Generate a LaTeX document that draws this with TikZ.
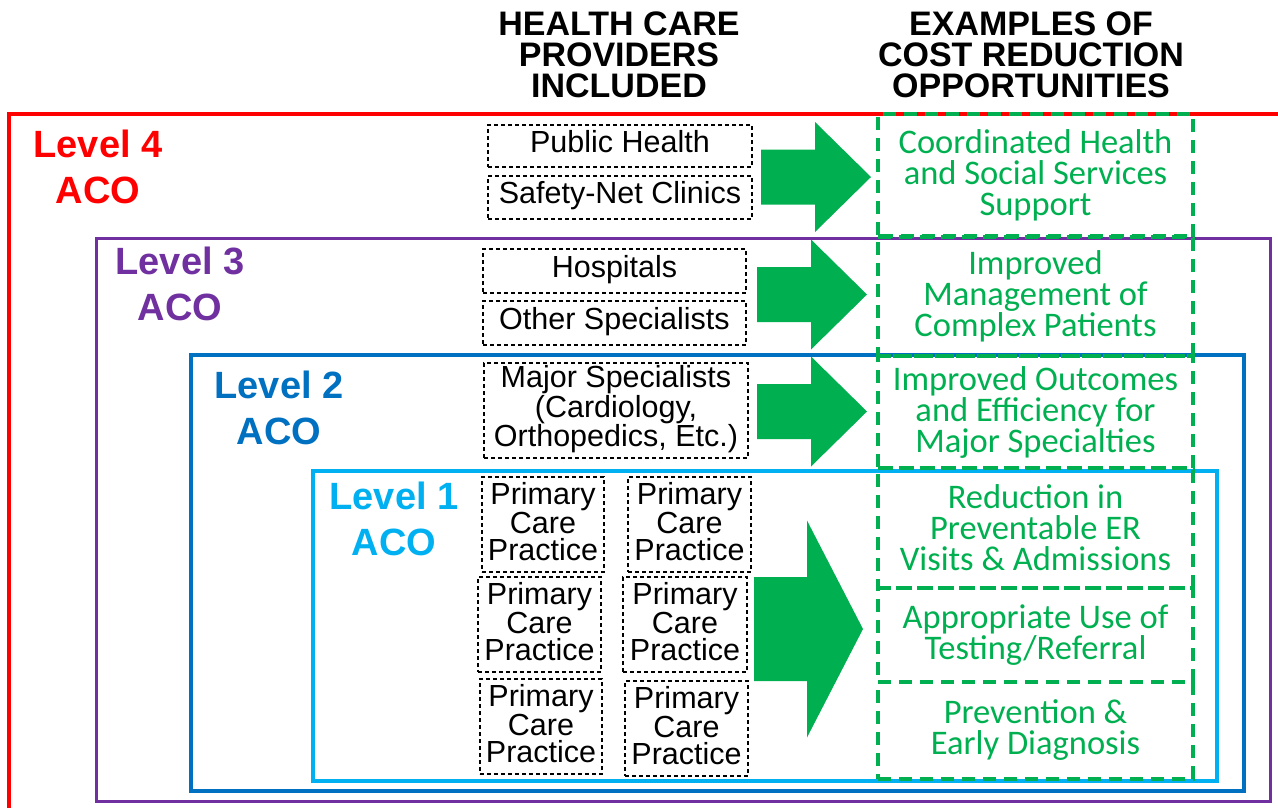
\documentclass[tikz,border=0pt]{standalone}
\usepackage{fontspec}
\setmainfont{Liberation Sans}
\newfontfamily\calibrifont{Carlito}
\definecolor{acored}{HTML}{FF0000}
\definecolor{acopurple}{HTML}{7030A0}
\definecolor{acoblue}{HTML}{0070C0}
\definecolor{acolightblue}{HTML}{00B0F0}
\definecolor{acogreen}{HTML}{00B050}
\tikzset{
  provider/.style={draw, dash pattern=on 4pt off 3pt, line width=1.2pt, inner sep=0pt, align=center, font=\fontsize{30.5}{27}\selectfont},
  oneline/.style={text height=22pt, text depth=10pt},
  saving/.style={draw=acogreen, text=acogreen, dash pattern=on 13pt off 8pt, line width=4pt, minimum width=315pt, inner sep=0pt, align=center, font=\calibrifont\fontsize{34.5}{31}\selectfont},
  levellabel/.style={anchor=north, inner sep=0pt, align=center, font=\bfseries\fontsize{38}{46}\selectfont},
  heading/.style={anchor=north, inner sep=0pt, align=center, font=\bfseries\fontsize{34}{31}\selectfont},
  levelframe/.style={line width=3.5pt},
}
% extra depth under the last line of a box
\newcommand{\pushup}[1]{\rule[-#1]{0pt}{#1}}
% left, head base, tip, centre y, half body, half head
\newcommand{\blockarrow}[6]{%
  \fill[acogreen] (#1,{#4-#5}) -- (#2,{#4-#5}) -- (#2,{#4-#6}) -- (#3,#4) -- (#2,{#4+#6}) -- (#2,{#4+#5}) -- (#1,{#4+#5}) -- cycle;}
\begin{document}
\begin{tikzpicture}[x=1pt,y=-1pt]
\clip (0,0) rectangle (1278,807);
% nested ACO levels
\draw[levelframe, acored, line width=4pt] (9,114) rectangle (1300,830);
\draw[levelframe, acopurple, line width=3pt] (96,238) rectangle (1270,801);
\draw[levelframe, acoblue] (191,355) rectangle (1244,791);
\draw[levelframe, acolightblue] (313,471) rectangle (1217,781);
\node[levellabel, acored] (lvfour) at (98,130) {Level 4\\ACO};
\node[levellabel, acopurple] (lvthree) at (180,247) {Level 3\\ACO};
\node[levellabel, acoblue] (lvtwo) at (279,371) {Level 2\\ACO};
\node[levellabel, acolightblue] (lvone) at (394,482) {Level 1\\ACO};
% column headings
\node[heading] (provhead) at (619,12) {HEALTH CARE\\PROVIDERS\\INCLUDED};
\node[heading] (savehead) at (1031,12) {EXAMPLES OF\\COST REDUCTION\\OPPORTUNITIES};
% providers
\node[provider, oneline, minimum width=264pt, minimum height=42pt] (pubhealth) at (620,146) {Public Health};
\node[provider, oneline, minimum width=264pt, minimum height=43pt] (safetynet) at (620,197.5) {Safety-Net Clinics};
\node[provider, oneline, minimum width=263pt, minimum height=44pt] (hospitals) at (614.5,271) {Hospitals};
\node[provider, oneline, minimum width=263pt, minimum height=44pt] (otherspec) at (614.5,323) {Other Specialists};
\node[provider, minimum width=264pt, minimum height=95pt] (majorspec) at (616,410.5) {Major Specialists\\(Cardiology,\\Orthopedics, Etc.)\pushup{9pt}};
\node[provider, minimum width=122pt, minimum height=95pt] (pcpa) at (543,524.5) {Primary\\Care\\Practice\pushup{6pt}};
\node[provider, minimum width=123pt, minimum height=95pt] (pcpb) at (689.5,524.5) {Primary\\Care\\Practice\pushup{6pt}};
\node[provider, minimum width=123pt, minimum height=95pt] (pcpc) at (539.5,624.5) {Primary\\Care\\Practice\pushup{6pt}};
\node[provider, minimum width=124pt, minimum height=95pt] (pcpd) at (685,624.5) {Primary\\Care\\Practice\pushup{6pt}};
\node[provider, minimum width=122pt, minimum height=95pt] (pcpe) at (541,726.5) {Primary\\Care\\Practice\pushup{6pt}};
\node[provider, minimum width=123pt, minimum height=95pt] (pcpf) at (686.5,728.5) {Primary\\Care\\Practice\pushup{6pt}};
% arrows
\blockarrow{761}{815}{871}{177}{27.5}{55}
\blockarrow{757}{811}{867}{294.5}{27.5}{55}
\blockarrow{757}{811}{867}{411.5}{27.5}{55}
\blockarrow{754}{807}{863}{629}{52}{108.5}
% cost reduction opportunities
\node[saving, minimum height=123pt] (socialsupport) at (1035.5,175.5) {Coordinated Health\\and Social Services\\Support};
\node[saving, minimum height=120pt] (complexpat) at (1035.5,296) {Improved\\Management of\\Complex Patients};
\node[saving, minimum height=112pt] (majoroutcome) at (1035.5,412) {Improved Outcomes\\and Efficiency for\\Major Specialties};
\node[saving, minimum height=120pt] (ervisits) at (1035.5,528) {Reduction in\\Preventable ER\\Visits \& Admissions};
\node[saving, minimum height=94pt] (testing) at (1035.5,635) {Appropriate Use of\\Testing/Referral};
\node[saving, minimum height=97pt] (prevention) at (1035.5,730.5) {Prevention \&\\Early Diagnosis};
\end{tikzpicture}
\end{document}
